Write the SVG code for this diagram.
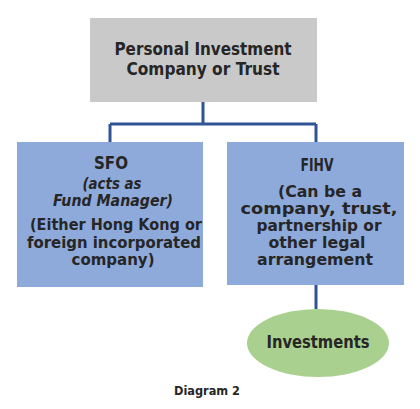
<svg xmlns="http://www.w3.org/2000/svg" width="420" height="409" viewBox="0 0 420 409">
<style>
.t{font-family:"DejaVu Sans","Liberation Sans",sans-serif;font-weight:bold;fill:#262626;text-anchor:middle}
.b{font-size:15px}
.i{font-style:italic}
.c{stroke:#2f5597;stroke-width:3;fill:none}
</style>
<rect width="420" height="409" fill="#fff"/>
<g id="connectors">
<path class="c" d="M203 102V124M110 124H316M110 124V142M316 124V142M316 285V309"/>
</g>
<g id="top">
<rect x="90" y="18" width="227" height="84" fill="#c9c9c9"/>
<text class="t" x="203" y="55" font-size="17" textLength="177" lengthAdjust="spacingAndGlyphs">Personal Investment</text>
<text class="t" x="203" y="75" font-size="17" textLength="153" lengthAdjust="spacingAndGlyphs">Company or Trust</text>
</g>
<g id="sfo">
<rect x="17" y="142" width="186" height="145" fill="#8eaadb"/>
<text class="t" x="111" y="169" font-size="17" textLength="34" lengthAdjust="spacingAndGlyphs">SFO</text>
<text class="t b i" x="112" y="189" textLength="59" lengthAdjust="spacingAndGlyphs">(acts as</text>
<text class="t b i" x="113" y="206" textLength="120" lengthAdjust="spacingAndGlyphs">Fund Manager)</text>
<text class="t b" x="116" y="230" textLength="172" lengthAdjust="spacingAndGlyphs">(Either Hong Kong or</text>
<text class="t b" x="114" y="248" textLength="174" lengthAdjust="spacingAndGlyphs">foreign incorporated</text>
<text class="t b" x="113" y="265" textLength="83" lengthAdjust="spacingAndGlyphs">company)</text>
</g>
<g id="fihv">
<rect x="227" y="142" width="177" height="143" fill="#8eaadb"/>
<text class="t" x="317" y="171" font-size="17" textLength="33" lengthAdjust="spacingAndGlyphs">FIHV</text>
<text class="t b" x="320" y="197" textLength="84" lengthAdjust="spacingAndGlyphs">(Can be a</text>
<text class="t b" x="319" y="214" textLength="157" lengthAdjust="spacingAndGlyphs">company, trust,</text>
<text class="t b" x="319" y="231" textLength="125" lengthAdjust="spacingAndGlyphs">partnership or</text>
<text class="t b" x="317" y="248" textLength="97" lengthAdjust="spacingAndGlyphs">other legal</text>
<text class="t b" x="315" y="265" textLength="116" lengthAdjust="spacingAndGlyphs">arrangement</text>
</g>
<g id="investments">
<ellipse cx="318" cy="343" rx="71" ry="34" fill="#a9d08e"/>
<text class="t" x="318" y="348" font-size="17" textLength="103" lengthAdjust="spacingAndGlyphs">Investments</text>
</g>
<text class="t" x="207" y="395" font-size="12" textLength="66" lengthAdjust="spacingAndGlyphs">Diagram 2</text>
</svg>
